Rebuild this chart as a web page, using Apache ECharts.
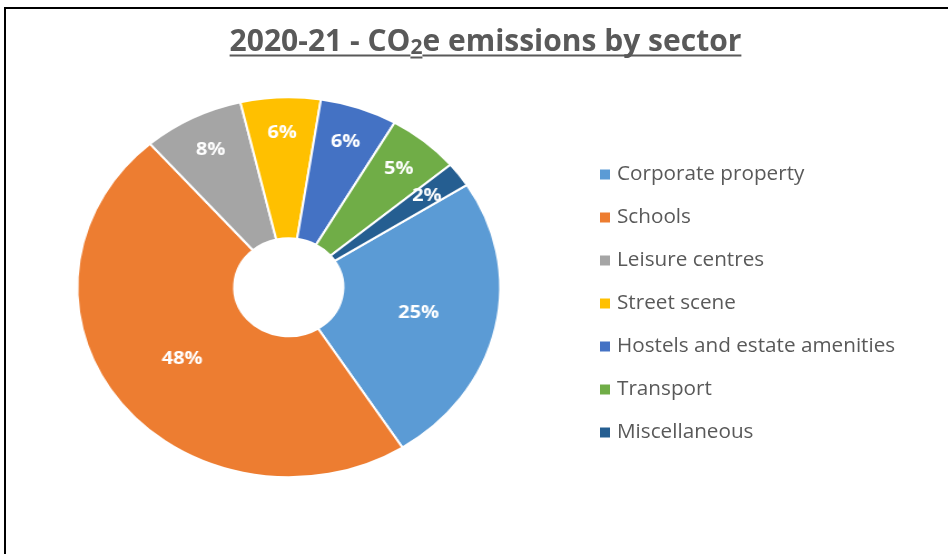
<!DOCTYPE html>
<html>
<head>
<meta charset="utf-8">
<script src="https://cdn.jsdelivr.net/npm/echarts/dist/echarts.min.js"></script>
<style>
html,body{margin:0;padding:0;background:#fff;width:948px;height:554px;overflow:hidden}
#pie{position:absolute;left:0;top:0;width:852px;height:554px;transform:scaleX(1.113);transform-origin:0 0}
#top{position:absolute;left:0;top:0;width:948px;height:554px}
</style>
</head>
<body>
<div id="pie"></div>
<div id="top"></div>
<script>
// ---- data ----
const categories = ['Corporate property', 'Schools', 'Leisure centres', 'Street scene',
  'Hostels and estate amenities', 'Transport', 'Miscellaneous'];
const values = [25.0, 47.6, 7.7, 6.1, 5.9, 5.5, 2.1];
const colors = ['#5B9BD5', '#ED7D31', '#A5A5A5', '#FFC000', '#4472C4', '#70AD47', '#255E91'];
const titleParts = ['2020-21 - CO', '2', 'e emissions by sector'];

// ---- layout constants ----
const SX = 1.113;            // horizontal stretch of the pie
const CX = 288.75 / SX, CY = 287.25, R0 = 49, R = 190;
const START = 32.6;
const total = values.reduce((a, b) => a + b, 0);

const pieChart = echarts.init(document.getElementById('pie'));
pieChart.setOption({
  animation: false,
  series: [{
    type: 'pie',
    center: [CX, CY],
    radius: [R0, R],
    startAngle: START,
    clockwise: true,
    percentPrecision: 0,
    avoidLabelOverlap: false,
    silent: true,
    itemStyle: { borderColor: '#fff', borderWidth: 2 },
    label: {
      show: true, position: 'inside', formatter: '{d}%',
      color: '#fff', fontFamily: 'Open Sans', fontWeight: 'bold', fontSize: 18
    },
    labelLine: { show: false },
    labelLayout: function (p) {
      const i = p.dataIndex;
      let cum = 0;
      for (let j = 0; j < i; j++) cum += values[j];
      const mid = (START - 360 * (cum + values[i] / 2) / total) * Math.PI / 180;
      const r = values[i] / total < 0.1 ? 154 : 119.5;
      return { x: CX + r * Math.cos(mid), y: CY - r * Math.sin(mid), align: 'center', verticalAlign: 'middle' };
    },
    data: categories.map((n, i) => ({ name: n, value: values[i], itemStyle: { color: colors[i] } }))
  }]
});

// ---- title metrics ----
const TF = 'Open Sans';
const FA = 30, FS = 21;
const cv = document.createElement('canvas').getContext('2d');
cv.font = 'bold ' + FA + 'px "' + TF + '"';
const wA = cv.measureText(titleParts[0]).width;
const wC = cv.measureText(titleParts[2]).width;
cv.font = 'bold ' + FS + 'px "' + TF + '"';
const wB = cv.measureText(titleParts[1]).width;
const titleW = wA + wB + wC;
const TCX = 485.5;
const TX0 = TCX - titleW / 2;
const TMID = 42.5;

function titleText(str, x, y, fs) {
  return { type: 'text', silent: true, x: x, y: y,
    style: { text: str, align: 'left', verticalAlign: 'middle',
      fontFamily: TF, fontWeight: 'bold', fontSize: fs, fill: '#595959' } };
}
function uline(x1, x2, y) {
  return { type: 'line', silent: true, shape: { x1: x1, y1: y, x2: x2, y2: y },
    style: { stroke: '#595959', lineWidth: 2 } };
}

const topChart = echarts.init(document.getElementById('top'));
topChart.setOption({
  animation: false,
  legend: {
    orient: 'vertical', left: 600, top: 164, padding: 0,
    itemWidth: 10, itemHeight: 10, itemGap: 22, icon: 'rect',
    textStyle: { fontFamily: 'Open Sans', fontSize: 20.7, color: '#595959', lineHeight: 20, padding: [0, 0, 0, 2] },
    data: categories
  },
  graphic: [
    { type: 'rect', silent: true, shape: { x: 5, y: 8, width: 2000, height: 2000 },
      style: { fill: 'none', stroke: '#000', lineWidth: 2 } },
    titleText(titleParts[0], TX0, TMID, FA),
    titleText(titleParts[1], TX0 + wA, TMID + 6, FS),
    titleText(titleParts[2], TX0 + wA + wB, TMID, FA),
    uline(TX0, TX0 + wA, 55.5),
    uline(TX0 + wA, TX0 + wA + wB, 57.5),
    uline(TX0 + wA + wB, TX0 + titleW, 55.5)
  ],
  series: [{
    type: 'pie', center: [-1000, -1000], radius: [0, 1], silent: true,
    label: { show: false }, labelLine: { show: false },
    data: categories.map((n, i) => ({ name: n, value: values[i], itemStyle: { color: colors[i] } }))
  }]
});
</script>
</body>
</html>
